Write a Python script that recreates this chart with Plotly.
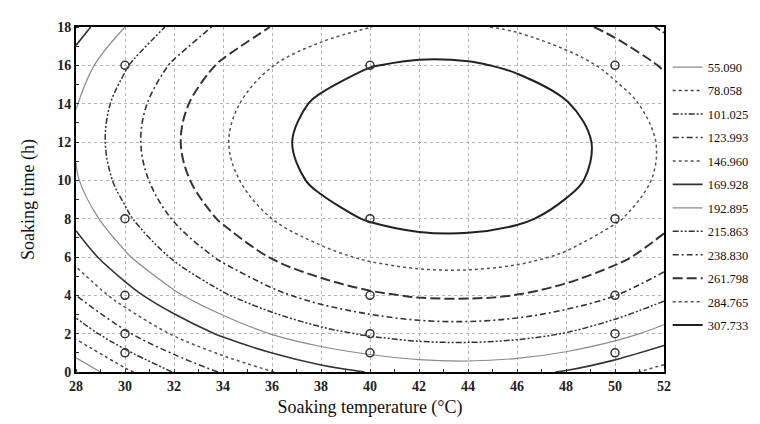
import plotly.graph_objects as go

# ---- data ----
temperature = [28, 30, 32, 34, 36, 38, 40, 42, 44, 46, 48, 50, 52]
soak_time = [0, 2, 4, 6, 8, 10, 12, 14, 16, 18]
# response surface values (rows: soak_time, cols: temperature)
response = [
    [37.4, 72.9, 102.2, 126.6, 146.3, 161.1, 171.0, 177.6, 179.3, 176.2, 168.2, 155.2, 138.1],
    [85.0, 120.2, 149.7, 174.2, 194.0, 208.9, 219.0, 225.3, 226.6, 223.2, 214.9, 201.7, 184.2],
    [124.1, 159.0, 188.6, 213.1, 233.0, 248.0, 258.1, 264.1, 265.1, 261.4, 252.7, 239.2, 221.5],
    [154.7, 189.3, 218.9, 243.4, 263.3, 278.2, 288.3, 294.0, 294.7, 290.7, 281.7, 267.9, 249.8],
    [176.9, 211.2, 240.6, 265.1, 284.8, 299.7, 309.6, 315.0, 315.4, 311.1, 301.8, 287.6, 269.3],
    [190.6, 224.6, 253.8, 278.1, 297.7, 312.3, 322.1, 327.2, 327.2, 322.6, 313.0, 298.5, 279.9],
    [195.7, 229.5, 258.5, 282.5, 301.8, 316.2, 325.7, 330.4, 330.2, 325.2, 315.4, 300.6, 281.6],
    [192.4, 225.9, 254.6, 278.3, 297.3, 311.4, 320.5, 325.0, 324.5, 319.2, 309.0, 294.0, 274.7],
    [180.6, 213.7, 242.1, 265.5, 284.2, 298.0, 306.9, 311.0, 310.2, 304.6, 294.2, 278.8, 259.2],
    [160.1, 192.9, 221.1, 244.2, 262.6, 276.1, 284.6, 288.5, 287.4, 281.5, 270.7, 255.1, 235.2],
]
levels = [55.090, 78.058, 101.025, 123.993, 146.960, 169.928,
          192.895, 215.863, 238.830, 261.798, 284.765, 307.733]
level_labels = ["55.090", "78.058", "101.025", "123.993", "146.960", "169.928",
                "192.895", "215.863", "238.830", "261.798", "284.765", "307.733"]
design_temp = [30, 30, 30, 30, 30, 40, 40, 40, 40, 40, 50, 50, 50, 50, 50]
design_time = [1, 2, 4, 8, 16, 1, 2, 4, 8, 16, 1, 2, 4, 8, 16]
x_ticks = [28, 30, 32, 34, 36, 38, 40, 42, 44, 46, 48, 50, 52]
y_ticks = [0, 2, 4, 6, 8, 10, 12, 14, 16, 18]

# ---- styles ----
DDOT = "6px,2px,2px,2px,2px,2px"
DASHDOT = "6px,3px,2px,3px"
styles = [
    dict(color="#8a8a8a", width=1.2, dash="solid"),
    dict(color="#444444", width=1.5, dash="dot"),
    dict(color="#333333", width=1.5, dash=DDOT),
    dict(color="#333333", width=1.5, dash=DASHDOT),
    dict(color="#555555", width=1.5, dash="dot"),
    dict(color="#333333", width=1.6, dash="solid"),
    dict(color="#8a8a8a", width=1.2, dash="solid"),
    dict(color="#333333", width=1.5, dash=DDOT),
    dict(color="#333333", width=1.6, dash=DASHDOT),
    dict(color="#333333", width=2.0, dash="10px,4px"),
    dict(color="#555555", width=1.5, dash="dot"),
    dict(color="#222222", width=2.0, dash="solid"),
]

fig = go.Figure()
for i, (lev, lab, st) in enumerate(zip(levels, level_labels, styles)):
    fig.add_trace(go.Contour(
        x=temperature, y=soak_time, z=response,
        autocontour=False,
        contours=dict(start=lev, end=lev + 0.5, size=1, coloring="none", showlabels=False),
        line=dict(color=st["color"], width=st["width"], dash=st["dash"], smoothing=1.0),
        showscale=False, showlegend=False, hoverinfo="skip",
    ))
    fig.add_trace(go.Scatter(
        x=[None], y=[None], mode="lines", name=lab,
        line=dict(color=st["color"], width=st["width"], dash=st["dash"]),
        legendgroup=f"g{i}", showlegend=True,
    ))

fig.add_trace(go.Scatter(
    x=design_temp, y=design_time, mode="markers", showlegend=False,
    marker=dict(symbol="circle-open", size=8, color="#333333", line=dict(width=1.5)),
    hoverinfo="skip",
))

serif = "Liberation Serif"
axis_common = dict(
    showline=True, linewidth=2, linecolor="black", mirror=True,
    showgrid=True, gridcolor="#b5b5b5", griddash="dot", gridwidth=1,
    zeroline=False, ticks="", tickfont=dict(family=serif, size=14, color="#222", weight="bold"),
    minor=dict(ticks="inside", ticklen=3, tickcolor="#333", showgrid=False),
)
fig.update_xaxes(range=[28, 52], tickvals=x_ticks, **axis_common,
                 title=dict(text="Soaking temperature (°C)", font=dict(family=serif, size=18, color="#111"),
                            standoff=8))
fig.update_xaxes(minor_dtick=1)
fig.update_yaxes(range=[0, 18], tickvals=y_ticks, **axis_common,
                 title=dict(text="Soaking time (h)", font=dict(family=serif, size=18, color="#111"),
                            standoff=18))
fig.update_yaxes(minor_dtick=1)

fig.update_layout(
    width=760, height=424,
    margin=dict(l=68, r=104, t=19, b=60, autoexpand=False),
    paper_bgcolor="white", plot_bgcolor="white",
    legend=dict(xref="container", yref="container", x=0.868, y=0.895,
                xanchor="left", yanchor="top", tracegroupgap=4.2, maxheight=400,
                borderwidth=0,
                font=dict(family=serif, size=12.5, color="#111"),
                bgcolor="rgba(0,0,0,0)"),
)

fig.write_html("out.html")
